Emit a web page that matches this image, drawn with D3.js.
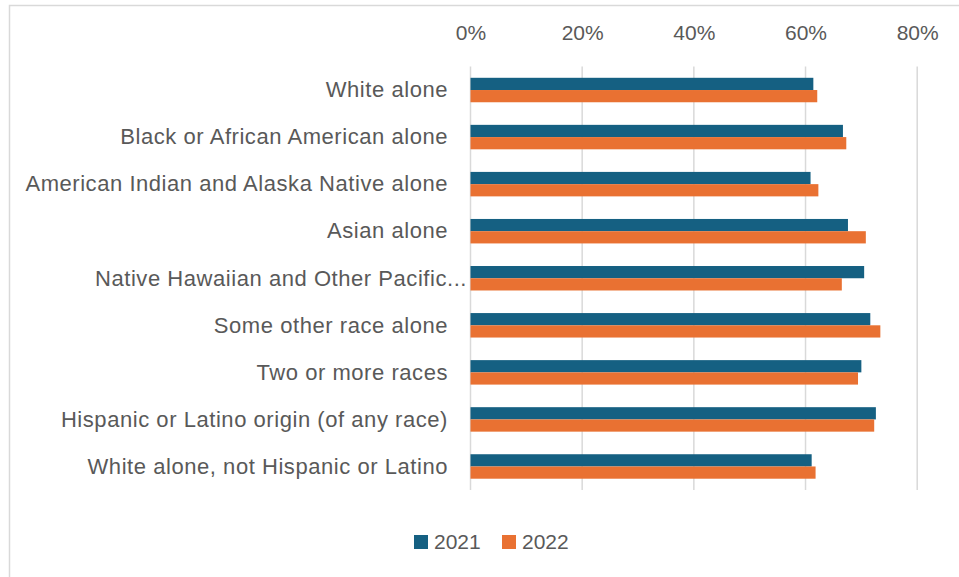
<!DOCTYPE html>
<html>
<head>
<meta charset="utf-8">
<script src="https://cdn.jsdelivr.net/npm/d3@7"></script>
<style>
  body { margin: 0; background: #fff; }
  text { font-family: "Liberation Sans", Arial, sans-serif; fill: #595959; }
</style>
</head>
<body>
<div id="chart"></div>
<script>
var Width = 959;
var Height = 577;

// Data
var categories = [
    "White alone",
    "Black or African American alone",
    "American Indian and Alaska Native alone",
    "Asian alone",
    "Native Hawaiian and Other Pacific...",
    "Some other race alone",
    "Two or more races",
    "Hispanic or Latino origin (of any race)",
    "White alone, not Hispanic or Latino"
];
var years = ["2021", "2022"];
var values2021 = [0.614, 0.667, 0.609, 0.676, 0.705, 0.716, 0.700, 0.726, 0.611];
var values2022 = [0.621, 0.673, 0.623, 0.708, 0.665, 0.734, 0.694, 0.723, 0.618];
var tickValues = [0, 0.2, 0.4, 0.6, 0.8];
var colors = ["#156082", "#E97132"];

var svg = d3.select("#chart")
    .append("svg")
        .attr("width", Width)
        .attr("height", Height);

// outer chart border (runs off the right/bottom edges)
svg.append("rect")
    .attr("x", 9.5)
    .attr("y", 5.5)
    .attr("width", 1000)
    .attr("height", 1000)
    .attr("fill", "none")
    .attr("stroke", "#d9d9d9")
    .attr("stroke-width", 1.5);

var x = d3.scaleLinear()
    .domain([0, 0.8])
    .range([470.5, 917.2]);

var y = d3.scaleBand()
    .domain(categories)
    .range([66.5, 490])
    .paddingInner(0.48)
    .paddingOuter(0.24);

var sub = d3.scaleBand()
    .domain(years)
    .range([0, y.bandwidth()]);

// gridlines
svg.append("g")
    .selectAll("line")
    .data(tickValues)
    .enter()
    .append("line")
    .attr("x1", function(d) { return x(d); })
    .attr("x2", function(d) { return x(d); })
    .attr("y1", 66.5)
    .attr("y2", 490)
    .attr("stroke", "#d9d9d9")
    .attr("stroke-width", 1.5);

// top axis labels
var xAxis = svg.append("g")
    .attr("transform", "translate(0,50)")
    .call(d3.axisTop(x)
        .tickValues(tickValues)
        .tickFormat(d3.format(".0%"))
        .tickSize(0)
        .tickPadding(0));
xAxis.select(".domain").remove();
xAxis.selectAll("text")
    .attr("fill", "#595959")
    .attr("dy", "-0.5em")
    .style("font-size", "21px")
    .style("font-family", "'Liberation Sans', Arial, sans-serif");

// bars
var series = [values2021, values2022];
series.forEach(function(vals, s) {
    svg.append("g")
        .selectAll("rect")
        .data(vals)
        .enter()
        .append("rect")
        .attr("x", x(0))
        .attr("y", function(d, i) { return y(categories[i]) + sub(years[s]); })
        .attr("width", function(d) { return x(d) - x(0); })
        .attr("height", sub.bandwidth())
        .attr("fill", colors[s]);
});

// category labels
svg.append("g")
    .selectAll("text")
    .data(categories)
    .enter()
    .append("text")
    .attr("x", function(d) { return d.indexOf("...") >= 0 ? 467 : 448; })
    .attr("y", function(d) { return y(d) + y.bandwidth() / 2; })
    .attr("dy", "0.33em")
    .attr("text-anchor", "end")
    .style("font-size", "22px")
    .style("letter-spacing", "0.55px")
    .text(function(d) { return d; });

// legend
var legend = svg.append("g")
    .selectAll("g")
    .data(years)
    .enter()
    .append("g")
    .attr("transform", function(d, i) { return "translate(" + (414 + i * 88) + ",535)"; });
legend.append("rect")
    .attr("width", 14)
    .attr("height", 14)
    .attr("fill", function(d, i) { return colors[i]; });
legend.append("text")
    .attr("x", 20)
    .attr("y", 14)
    .style("font-size", "21px")
    .text(function(d) { return d; });
</script>
</body>
</html>
